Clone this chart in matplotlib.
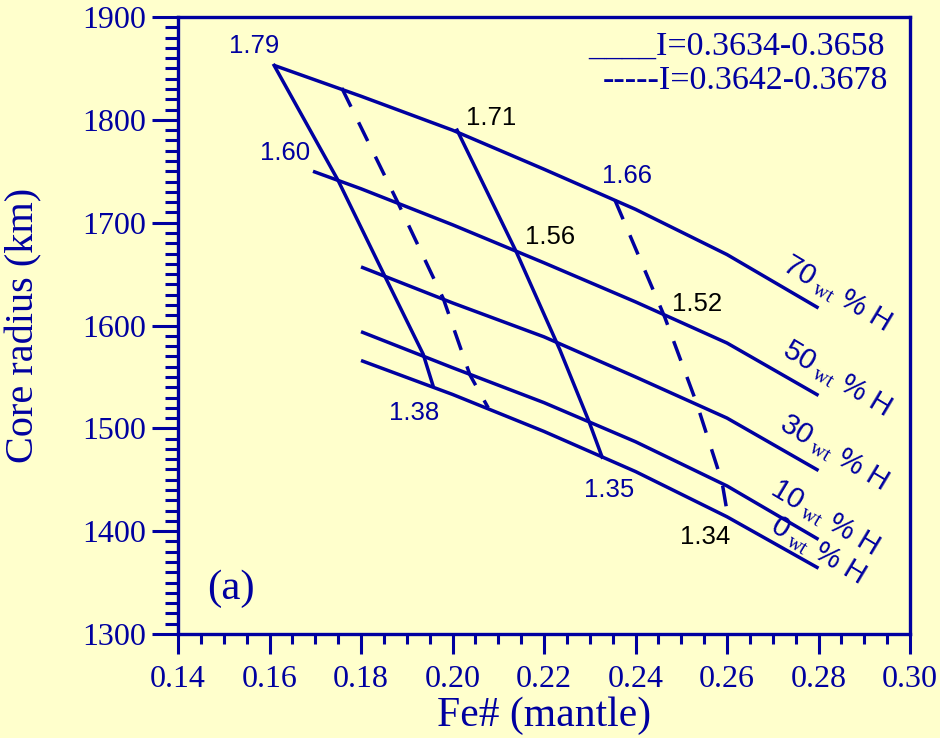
import numpy as np
import matplotlib
matplotlib.use("Agg")
import matplotlib.pyplot as plt
from matplotlib.ticker import MultipleLocator, FormatStrFormatter

plt.rcParams['mathtext.fontset'] = 'custom'
plt.rcParams['mathtext.rm'] = 'Liberation Serif'

# lines of constant H content in the core (wt %)
h_names = ['70', '50', '30', '10', '0']
h70_x = [0.161, 0.18, 0.20, 0.22, 0.24, 0.26, 0.28]
h70_y = [1853, 1823, 1790, 1752, 1713, 1669, 1617]
h50_x = [0.1695, 0.18, 0.20, 0.22, 0.24, 0.26, 0.28]
h50_y = [1750, 1733, 1698, 1661, 1623, 1583, 1532]
h30_x = [0.18, 0.20, 0.22, 0.24, 0.26, 0.28]
h30_y = [1657, 1622, 1589, 1550, 1510, 1459]
h10_x = [0.18, 0.20, 0.22, 0.24, 0.26, 0.28]
h10_y = [1594, 1559, 1525, 1487, 1444, 1392]
h0_x = [0.18, 0.20, 0.22, 0.24, 0.26, 0.28]
h0_y = [1566, 1533, 1497, 1458, 1414, 1364]

# iso moment-of-inertia lines
solid_a_x = [0.161, 0.175, 0.1852, 0.1936, 0.1957]
solid_a_y = [1853, 1741, 1648, 1572, 1542]
solid_b_x = [0.201, 0.2139, 0.2235, 0.2298, 0.2327]
solid_b_y = [1790, 1672, 1576, 1507, 1472]
dash_a_x = [0.1758, 0.188, 0.198, 0.2038, 0.2078]
dash_a_y = [1831, 1720, 1626, 1552, 1520]
dash_b_x = [0.2355, 0.2464, 0.2534, 0.2589, 0.2602]
dash_b_y = [1722, 1608, 1524, 1448, 1414]

# density-ratio labels at line ends
pt_text = ['1.79', '1.60', '1.71', '1.66', '1.56', '1.52', '1.38', '1.35', '1.34']
pt_x = [0.1566, 0.1634, 0.2084, 0.2381, 0.2213, 0.2534, 0.1916, 0.2342, 0.2552]
pt_y = [1872, 1768, 1802, 1745, 1686, 1621, 1515, 1440, 1394]
pt_dark = [False, False, True, False, True, True, False, False, True]

# H labels next to line ends
hl_x = [0.2840, 0.2840, 0.2832, 0.2812, 0.2797]
hl_y = [1631, 1548, 1476, 1413, 1381]

blue = '#0000A0'
bg = '#FFFFCC'
lw = 2.5

fig = plt.figure(figsize=(9.4, 7.38), dpi=100, facecolor=bg)
ax = fig.add_axes([0.1894, 0.1409, 0.7787, 0.8360], facecolor=bg)

for xs, ys in [(h70_x, h70_y), (h50_x, h50_y), (h30_x, h30_y),
               (h10_x, h10_y), (h0_x, h0_y)]:
    ax.plot(xs, ys, color=blue, lw=lw, solid_capstyle='butt')

ax.plot(solid_a_x, solid_a_y, color=blue, lw=lw)
ax.plot(solid_b_x, solid_b_y, color=blue, lw=lw)
ax.plot(dash_a_x, dash_a_y, color=blue, lw=lw, ls=(0, (6, 5)))
ax.plot(dash_b_x, dash_b_y, color=blue, lw=lw, ls=(0, (6, 5)))

for t, x, y, dark in zip(pt_text, pt_x, pt_y, pt_dark):
    ax.text(x, y, t, color='black' if dark else blue, fontsize=18.5,
            family='Liberation Sans', ha='center', va='center')

for name, x, y in zip(h_names, hl_x, hl_y):
    ax.text(x, y, name + r'$\,_{\mathrm{wt}}$ % H', color=blue, fontsize=21,
            family='Liberation Sans', rotation=-31, rotation_mode='anchor',
            ha='center', va='center')

# legend written as text
ax.text(0.966, 0.952, '____I=0.3634-0.3658', transform=ax.transAxes,
        color=blue, fontsize=24.5, family='Liberation Serif', ha='right', va='center')
ax.text(0.970, 0.897, '-----I=0.3642-0.3678', transform=ax.transAxes,
        color=blue, fontsize=24.5, family='Liberation Serif', ha='right', va='center')

ax.text(0.072, 0.073, '(a)', transform=ax.transAxes, color=blue, fontsize=31,
        family='Liberation Serif', ha='center', va='center')

ax.set_xlim(0.14, 0.30)
ax.set_ylim(1300, 1900)
ax.xaxis.set_major_locator(MultipleLocator(0.02))
ax.xaxis.set_minor_locator(MultipleLocator(0.005))
ax.xaxis.set_major_formatter(FormatStrFormatter('%.2f'))
ax.yaxis.set_major_locator(MultipleLocator(100))
ax.yaxis.set_minor_locator(MultipleLocator(10))

for s in ax.spines.values():
    s.set_color(blue)
    s.set_linewidth(2.4)

ax.tick_params(axis='both', which='both', direction='out', color=blue,
               width=2.2, labelcolor=blue, labelsize=23, pad=4)
ax.tick_params(axis='x', which='major', pad=8)
ax.tick_params(axis='y', which='major', length=19)
ax.tick_params(axis='y', which='minor', length=9.5)
ax.tick_params(axis='x', which='major', length=14.5)
ax.tick_params(axis='x', which='minor', length=7.5)
for lab in ax.get_xticklabels() + ax.get_yticklabels():
    lab.set_family('Liberation Serif')

ax.set_xlabel('Fe# (mantle)', color=blue, fontsize=30, family='Liberation Serif')
ax.set_ylabel('Core radius (km)', color=blue, fontsize=29, family='Liberation Serif')
ax.xaxis.set_label_coords(0.5, -0.102)
ax.yaxis.set_label_coords(-0.185, 0.5)

fig.savefig('out.png', dpi=100, facecolor=bg)
